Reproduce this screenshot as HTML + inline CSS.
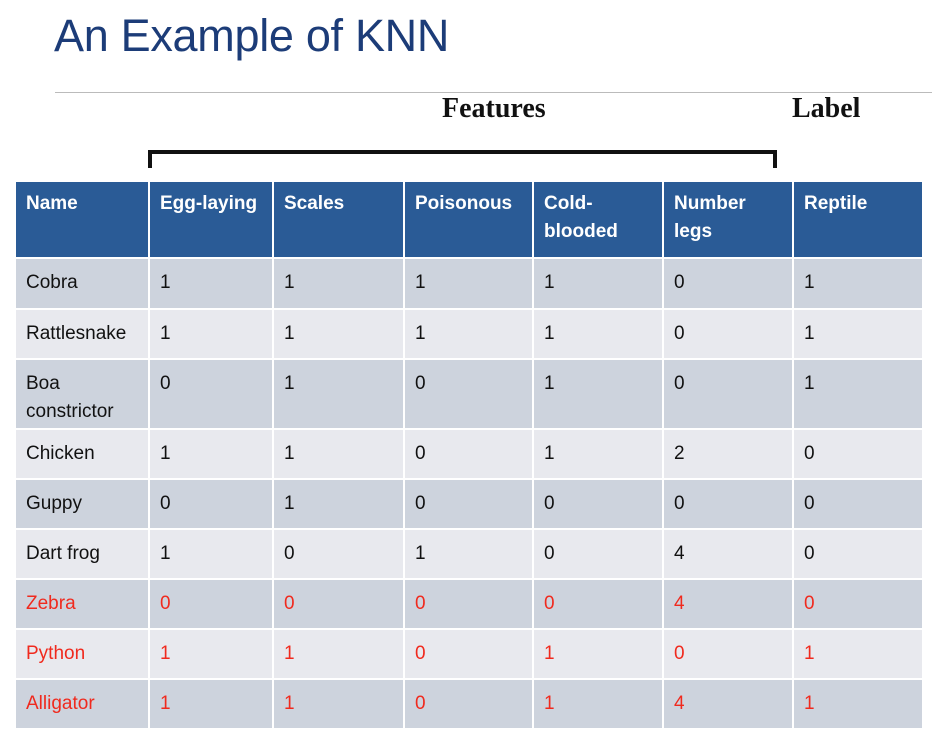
<!DOCTYPE html>
<html><head><meta charset="utf-8"><style>
body{margin:0;width:932px;height:745px;background:#fff;position:relative;overflow:hidden;font-family:"Liberation Sans",sans-serif}
.title{position:absolute;left:54px;top:10px;font-size:45px;color:#1c3c78;letter-spacing:-0.3px}
.rule{position:absolute;left:55px;top:92px;width:877px;height:1px;background:#bbb}
.feat{position:absolute;top:93px;font-family:"Liberation Serif",serif;font-weight:bold;font-size:28px;color:#111}
.brk{position:absolute;left:148px;top:150px;width:629px;height:18px;border:4px solid #111;border-bottom:none;box-sizing:border-box}
.c{position:absolute;box-sizing:border-box;padding:10px 0 0 10px;font-size:19px;color:#111;line-height:28px;border-right:2px solid #fff;border-bottom:2px solid #fff}
.h{background:#2a5b96;color:#fff;font-weight:bold;padding-top:8px}
.d{background:#cdd3dd}.l{background:#e8e9ee}.r{color:#f02a1e}
</style></head><body>
<div class="title">An Example of KNN</div>
<div class="rule"></div>
<div class="feat" style="left:442px">Features</div>
<div class="feat" style="left:792px">Label</div>
<div class="brk"></div>
<div id="t"></div>
<script>
const headers=["Name","Egg-laying","Scales","Poisonous","Cold-<br>blooded","Number<br>legs","Reptile"];
const names=["Cobra","Rattlesnake","Boa<br>constrictor","Chicken","Guppy","Dart frog","Zebra","Python","Alligator"];
const values=[[1,1,1,1,0,1],[1,1,1,1,0,1],[0,1,0,1,0,1],[1,1,0,1,2,0],[0,1,0,0,0,0],[1,0,1,0,4,0],[0,0,0,0,4,0],[1,1,0,1,0,1],[1,1,0,1,4,1]];
const red=[false,false,false,false,false,false,true,true,true];
const xs=[16,150,274,405,534,664,794,924];
const ys=[182,259,310,360,430,480,530,580,630,680,730];
const t=document.getElementById('t');
function cell(x0,x1,y0,y1,html,cls){const d=document.createElement('div');d.className='c '+cls;d.style.left=x0+'px';d.style.top=y0+'px';d.style.width=(x1-x0)+'px';d.style.height=(y1-y0)+'px';d.innerHTML=html;t.appendChild(d);return d;}
headers.forEach((h,i)=>{const d=cell(xs[i],xs[i+1],ys[0],ys[1],h,'h');

});
names.forEach((n,r)=>{const bg=r%2==0?'d':'l';const rc=red[r]?' r':'';
const d=cell(xs[0],xs[1],ys[r+1],ys[r+2],n,bg+rc);


values[r].forEach((v,c)=>{const e=cell(xs[c+1],xs[c+2],ys[r+1],ys[r+2],v,bg+rc);

});});
</script>
</body></html>
